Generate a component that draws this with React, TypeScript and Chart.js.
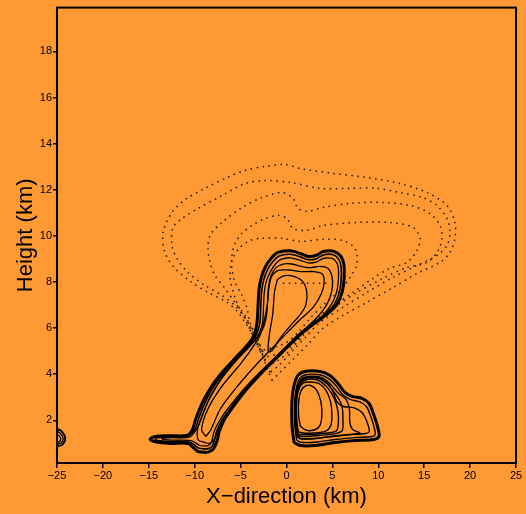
import React, { useEffect, useRef } from "react";
import { Chart, registerables } from "chart.js";
Chart.register(...registerables);

const BG = "#FF9933";
const FONT = "'Liberation Sans', Arial, sans-serif";
const X_MIN = -25;
const X_MAX = 25;
const Y_MIN = 0.15;
const Y_MAX = 19.9;
const X_TICKS = [-25, -20, -15, -10, -5, 0, 5, 10, 15, 20, 25];
const Y_TICKS = [2, 4, 6, 8, 10, 12, 14, 16, 18];
const X_TITLE = "X\u2212direction (km)";
const Y_TITLE = "Height (km)";

// dotted contours (outer -> inner)
const dot1 = [[-1.58,3.73],[-2.34,4.51],[-3.1,5.21],[-3.76,5.77],[-4.52,6.25],[-5.28,6.68],[-6.48,7.12],[-8.55,7.55],[-10.29,7.98],[-12.15,8.59],[-13.24,9.28],[-13.45,10.15],[-12.47,11.02],[-10.84,11.63],[-8.88,12.06],[-6.48,12.53],[-4.52,12.84],[-2.34,13.01],[-0.16,13.1],[1.47,12.92],[5.07,12.71],[8.77,12.53],[12.36,12.27],[15.3,11.88],[17.48,11.32],[18.35,10.59],[18.35,9.89],[17.81,9.28],[16.72,8.85],[14.22,8.37],[11.6,7.76],[8.77,7.12],[6.15,6.55],[3.97,5.99],[2.23,5.25],[0.6,4.6],[-0.71,4.08]];
const dot2 = [[-1.8,4.08],[-2.56,4.77],[-3.43,5.47],[-4.19,6.12],[-4.74,6.55],[-5.61,6.98],[-7.03,7.42],[-8.88,7.85],[-10.73,8.41],[-11.93,9.02],[-12.47,9.58],[-12.36,10.36],[-11.38,10.75],[-9.64,11.19],[-7.03,11.75],[-4.52,12.27],[-2.34,12.4],[0.38,12.32],[3.65,12.06],[6.92,12.06],[9.86,12.06],[12.36,11.88],[14.87,11.66],[16.39,11.32],[17.48,10.75],[17.81,10.15],[17.48,9.58],[16.39,9.15],[14.22,8.72],[11.6,8.2],[8.77,7.55],[6.15,6.9],[3.65,6.25],[2.23,5.68],[0.71,5.03],[-0.71,4.43]];
const dot3 = [[-2.02,4.38],[-2.89,5.12],[-3.76,5.9],[-4.52,6.55],[-5.61,7.11],[-6.7,7.72],[-7.79,8.28],[-8.33,8.85],[-8.55,9.45],[-8.33,10.02],[-7.03,10.58],[-4.85,11.23],[-2.67,11.66],[-0.49,11.88],[0.71,11.62],[1.25,11.19],[2.23,11.06],[3.97,11.23],[6.92,11.41],[10.51,11.45],[13.45,11.32],[15.63,10.97],[16.72,10.45],[16.94,9.89],[16.39,9.28],[15.3,8.85],[13.13,8.63],[10.51,8.16],[7.68,7.55],[5.5,6.98],[3.32,6.33],[1.8,5.68],[0.38,5.03],[-0.93,4.6]];
const dot4 = [[-2.34,4.73],[-3.1,5.47],[-3.98,6.25],[-4.3,6.85],[-4.85,7.42],[-5.61,7.98],[-5.94,8.59],[-5.94,9.15],[-5.61,9.67],[-4.85,10.11],[-3.76,10.45],[-2.34,10.75],[-0.93,10.89],[0.05,10.75],[0.71,10.32],[2.23,10.24],[3.97,10.45],[7.68,10.58],[11.27,10.58],[13.78,10.37],[14.54,9.89],[14.22,9.37],[13.13,8.85],[11.27,8.59],[9.42,8.16],[7.24,7.55],[5.5,7.07],[3.65,6.55],[2.23,5.99],[0.93,5.38],[-0.49,4.95]];
const dot5 = [[-2.67,5.03],[-3.43,5.68],[-4.3,6.33],[-4.85,6.64],[-5.61,7.33],[-6.15,8.2],[-5.94,8.93],[-5.07,9.5],[-3.98,9.8],[-2.89,9.89],[-0.38,9.89],[1.47,9.76],[3.97,9.85],[6.15,9.8],[7.46,9.45],[7.68,8.8],[6.92,8.2],[5.83,7.63],[4.19,7.07],[2.56,6.42],[1.25,5.81],[-0.16,5.34]];
const dotLine = [[-0.4,7.95],[4.8,7.95]];

// solid contours, main updraft (outer -> inner)
const main1 = [[-8.66,0.61],[-9.64,0.65],[-10.19,0.83],[-10.73,1.0],[-12.69,1.0],[-14.32,1.07],[-14.87,1.18],[-14.32,1.3],[-12.69,1.33],[-10.84,1.35],[-10.29,1.56],[-9.86,2.09],[-9.2,2.74],[-8.55,3.22],[-7.79,3.69],[-6.81,4.17],[-5.61,4.69],[-4.3,5.25],[-3.54,5.69],[-3.21,6.25],[-3.1,6.98],[-3.0,7.63],[-2.78,8.15],[-2.34,8.63],[-1.69,9.02],[-0.93,9.28],[0.38,9.35],[1.47,9.24],[2.34,9.11],[3.21,9.15],[4.08,9.33],[5.17,9.33],[5.94,9.11],[6.26,8.72],[6.26,8.07],[6.05,7.55],[5.5,7.03],[4.52,6.64],[3.21,6.25],[1.91,5.86],[0.71,5.42],[-0.49,4.95],[-1.58,4.51],[-2.67,4.08],[-3.87,3.56],[-4.96,3.04],[-5.94,2.52],[-6.81,2.0],[-7.35,1.48],[-7.57,1.09],[-8.01,0.74]];
const main2 = [[-8.7,0.75],[-9.6,0.8],[-10.1,0.95],[-10.7,1.07],[-12.7,1.08],[-14.0,1.12],[-14.3,1.18],[-14.0,1.25],[-12.7,1.28],[-10.9,1.3],[-10.0,1.6],[-9.55,2.1],[-8.9,2.75],[-8.25,3.25],[-7.5,3.72],[-6.5,4.22],[-5.3,4.74],[-4.0,5.3],[-3.25,5.75],[-2.9,6.25],[-2.8,6.98],[-2.7,7.63],[-2.48,8.1],[-2.05,8.55],[-1.45,8.9],[-0.8,9.13],[0.38,9.2],[1.45,9.1],[2.34,8.97],[3.21,9.0],[4.08,9.18],[5.1,9.18],[5.7,8.98],[5.95,8.65],[5.95,8.07],[5.75,7.55],[5.2,7.03],[4.25,6.6],[2.95,6.2],[1.65,5.8],[0.45,5.35],[-0.75,4.88],[-1.85,4.45],[-2.95,4.02],[-4.15,3.5],[-5.25,2.98],[-6.25,2.46],[-7.1,1.97],[-7.65,1.48],[-7.85,1.12],[-8.15,0.85]];
const main3 = [[-8.7,0.88],[-9.5,0.92],[-10.0,1.05],[-10.6,1.13],[-12.5,1.14],[-13.4,1.17],[-13.6,1.2],[-13.4,1.23],[-12.5,1.25],[-10.6,1.27],[-9.75,1.65],[-9.25,2.1],[-8.6,2.78],[-7.95,3.28],[-7.2,3.76],[-6.2,4.27],[-5.0,4.8],[-3.7,5.35],[-2.95,5.8],[-2.6,6.25],[-2.5,6.98],[-2.4,7.63],[-2.18,8.05],[-1.75,8.45],[-1.2,8.78],[-0.6,8.98],[0.38,9.05],[1.45,8.95],[2.34,8.83],[3.21,8.86],[4.08,9.03],[5.0,9.02],[5.45,8.85],[5.65,8.6],[5.65,8.07],[5.45,7.55],[4.9,7.03],[3.95,6.55],[2.65,6.15],[1.35,5.75],[0.15,5.28],[-1.05,4.8],[-2.15,4.38],[-3.25,3.95],[-4.45,3.45],[-5.55,2.93],[-6.55,2.43],[-7.35,1.95],[-7.9,1.5],[-8.1,1.15],[-8.3,0.97]];
const main4 = [[-9.0,1.05],[-9.6,1.15],[-9.7,1.6],[-9.2,2.2],[-8.5,2.85],[-7.8,3.35],[-7.0,3.85],[-5.9,4.4],[-4.7,4.95],[-3.5,5.45],[-2.6,5.95],[-2.2,6.5],[-2.05,7.2],[-1.95,7.8],[-1.7,8.25],[-1.2,8.6],[-0.4,8.78],[0.6,8.78],[1.6,8.68],[2.6,8.62],[3.6,8.68],[4.5,8.6],[4.95,8.25],[5.0,7.8],[4.75,7.35],[4.2,6.9],[3.3,6.45],[2.1,6.0],[0.9,5.55],[-0.3,5.05],[-1.45,4.58],[-2.6,4.1],[-3.8,3.6],[-4.9,3.08],[-6.0,2.5],[-6.9,1.95],[-7.5,1.5],[-7.9,1.15],[-8.4,1.0]];
const main5 = [[-8.8,1.3],[-8.3,1.55],[-7.2,2.5],[-5.3,3.5],[-3.1,4.5],[-0.9,5.4],[1.3,6.3],[2.9,6.9],[3.8,7.5],[4.1,8.0],[3.9,8.35],[3.0,8.45],[1.6,8.45],[0.3,8.52],[-0.9,8.5],[-1.6,8.25],[-1.9,7.8],[-2.1,7.0],[-2.5,6.2],[-3.0,5.6],[-4.9,4.5],[-7.0,3.5],[-8.55,2.5],[-9.25,1.6]];
const main6 = [[-1.0,8.1],[-0.3,8.27],[0.7,8.25],[1.7,8.05],[2.2,7.6],[2.1,7.0],[1.5,6.6],[0.2,6.0],[-0.9,5.45],[-1.6,5.0],[-2.0,5.0],[-1.85,5.75],[-1.5,6.6],[-1.3,7.6]];

// solid contours, right cell (outer -> inner)
const right1 = [[0.82,1.04],[0.6,1.78],[0.6,2.87],[0.82,3.52],[1.25,3.95],[2.02,4.12],[3.65,4.12],[4.74,3.95],[5.61,3.6],[6.37,3.21],[7.14,3.04],[8.22,2.95],[8.99,2.74],[9.53,2.22],[9.97,1.65],[10.08,1.31],[9.53,1.17],[7.46,1.13],[5.28,1.04],[3.1,0.91],[1.47,0.91]];
const right2 = [[1.1,1.15],[0.9,1.8],[0.9,2.87],[1.1,3.45],[1.45,3.82],[2.1,3.98],[3.6,3.98],[4.55,3.82],[5.4,3.5],[6.15,3.1],[7.0,2.9],[8.0,2.8],[8.7,2.6],[9.2,2.15],[9.6,1.62],[9.65,1.38],[9.3,1.3],[7.4,1.25],[5.3,1.17],[3.1,1.05],[1.5,1.05]];
const right3 = [[1.3,1.25],[1.1,1.9],[1.1,2.9],[1.3,3.4],[1.7,3.75],[2.3,3.85],[3.5,3.85],[4.3,3.7],[5.0,3.3],[5.5,2.8],[6.2,2.6],[7.3,2.55],[8.2,2.35],[8.8,1.9],[9.0,1.5],[8.4,1.42],[6.5,1.38],[4.8,1.3],[3.0,1.2],[1.6,1.2]];
const right4 = [[1.15,1.3],[0.95,1.9],[0.95,2.9],[1.15,3.4],[1.6,3.78],[2.3,3.9],[3.6,3.88],[4.6,3.65],[5.6,3.2],[6.5,2.9],[6.85,2.5],[6.9,1.9],[7.2,1.6],[8.0,1.45],[7.0,1.38],[5.0,1.3],[3.0,1.22],[1.6,1.2]];
const right5 = [[1.2,1.35],[1.0,2.0],[1.0,2.9],[1.2,3.4],[1.65,3.72],[2.3,3.84],[3.5,3.82],[4.5,3.55],[5.5,3.05],[6.05,2.6],[6.15,2.0],[6.05,1.55],[5.0,1.4],[3.0,1.33],[1.6,1.3]];
const right6 = [[1.25,1.4],[1.05,2.0],[1.05,2.9],[1.25,3.35],[1.7,3.65],[2.35,3.78],[3.4,3.75],[4.4,3.45],[5.2,2.95],[5.6,2.4],[5.65,1.9],[5.45,1.55],[4.5,1.45],[3.0,1.4],[1.7,1.38]];
const right7 = [[1.3,1.5],[1.1,2.1],[1.1,2.9],[1.35,3.35],[1.85,3.62],[2.6,3.66],[3.5,3.6],[4.3,3.3],[4.8,2.8],[4.95,2.2],[4.8,1.75],[4.2,1.52],[3.0,1.45],[1.8,1.45]];
const right8 = [[1.5,1.75],[1.3,2.3],[1.35,2.9],[1.6,3.3],[2.1,3.5],[2.7,3.5],[3.3,3.3],[3.75,2.8],[3.85,2.2],[3.6,1.75],[2.9,1.57],[2.1,1.58]];

// small cell cut by the left edge
const edge1 = [[-25,1.62],[-24.6,1.56],[-24.2,1.36],[-24.12,1.15],[-24.35,0.97],[-24.7,0.9],[-25,0.9]];
const edge2 = [[-25,1.52],[-24.7,1.46],[-24.4,1.3],[-24.35,1.15],[-24.55,1.02],[-25,0.97]];
const edge3 = [[-25,1.4],[-24.75,1.32],[-24.6,1.2],[-24.7,1.08],[-25,1.04]];

const DOTTED = [dot1, dot2, dot3, dot4, dot5];
const MAIN = [main1, main2, main3, main4, main5, main6];
const RIGHT = [right1, right2, right3, right4, right5, right6, right7, right8];
const EDGE = [edge1, edge2, edge3];

function pts(arr: number[][], close: boolean) {
  const p = arr.map(([x, y]) => ({ x, y }));
  if (close) p.push({ x: arr[0][0], y: arr[0][1] });
  return p;
}

export default function App() {
  const ref = useRef<HTMLCanvasElement>(null);
  useEffect(() => {
    document.body.style.margin = "0";
    document.body.style.background = BG;
    const canvas = ref.current;
    if (!canvas) return;
    const base = { pointRadius: 0, showLine: true, fill: false, borderColor: "#000" };
    const datasets: any[] = [];
    MAIN.forEach((c, i) =>
      datasets.push({ ...base, data: pts(c, true), borderWidth: i === 0 ? 3 : i === 1 ? 1.6 : 1.3, tension: 0.3 })
    );
    RIGHT.forEach((c, i) =>
      datasets.push({ ...base, data: pts(c, true), borderWidth: i === 0 ? 3 : 1.4, tension: 0.3 })
    );
    EDGE.forEach((c, i) =>
      datasets.push({ ...base, data: pts(c, false), borderWidth: i === 0 ? 2 : 1.3, tension: 0.3 })
    );
    DOTTED.forEach((c) =>
      datasets.push({ ...base, data: pts(c, true), borderColor: "#1a1a1a", borderWidth: 1.5, borderDash: [1.5, 4.5], tension: 0.3 })
    );
    datasets.push({ ...base, data: pts(dotLine, false), borderColor: "#1a1a1a", borderWidth: 1.5, borderDash: [1.5, 4.5] });

    const frame = {
      id: "frame",
      afterDatasetsDraw(chart: any) {
        const { ctx, chartArea: a } = chart;
        ctx.save();
        ctx.strokeStyle = "#000";
        ctx.lineWidth = 2;
        ctx.strokeRect(a.left, a.top, a.right - a.left, a.bottom - a.top);
        ctx.restore();
      },
    };

    const tickFont = { family: FONT, size: 11 };
    const chart = new Chart(canvas, {
      type: "scatter",
      data: { datasets },
      plugins: [frame],
      options: {
        animation: false,
        responsive: false,
        events: [],
        layout: { padding: { top: 7, right: 10, left: 0, bottom: 0 } },
        plugins: { legend: { display: false }, tooltip: { enabled: false } },
        scales: {
          x: {
            type: "linear",
            min: X_MIN,
            max: X_MAX,
            afterBuildTicks: (s: any) => { s.ticks = X_TICKS.map((v) => ({ value: v })); },
            afterFit: (s: any) => { s.height = 51; },
            ticks: {
              font: tickFont, color: "#000", padding: 1, maxRotation: 0, autoSkip: false,
              callback: (v: any) => (Number(v) < 0 ? "\u2212" + Math.abs(Number(v)) : String(v)),
            },
            grid: { drawOnChartArea: false, drawTicks: true, tickLength: 5, color: "#000", lineWidth: 1.5 },
            border: { display: false },
            title: { display: true, text: X_TITLE, color: "#000", font: { family: FONT, size: 22 }, padding: { top: 0, bottom: 4 } },
          },
          y: {
            type: "linear",
            min: Y_MIN,
            max: Y_MAX,
            afterBuildTicks: (s: any) => { s.ticks = Y_TICKS.map((v) => ({ value: v })); },
            afterFit: (s: any) => { s.width = 57; },
            ticks: { font: tickFont, color: "#000", padding: 1, autoSkip: false },
            grid: { drawOnChartArea: false, drawTicks: true, tickLength: 4, color: "#000", lineWidth: 1.5 },
            border: { display: false },
            title: { display: true, text: Y_TITLE, color: "#000", font: { family: FONT, size: 22 }, padding: { top: 13, bottom: 0 } },
          },
        },
      } as any,
    });
    return () => chart.destroy();
  }, []);
  return (
    <div style={{ width: 526, height: 514, background: BG }}>
      <canvas ref={ref} width={526} height={514} style={{ display: "block" }} />
    </div>
  );
}
